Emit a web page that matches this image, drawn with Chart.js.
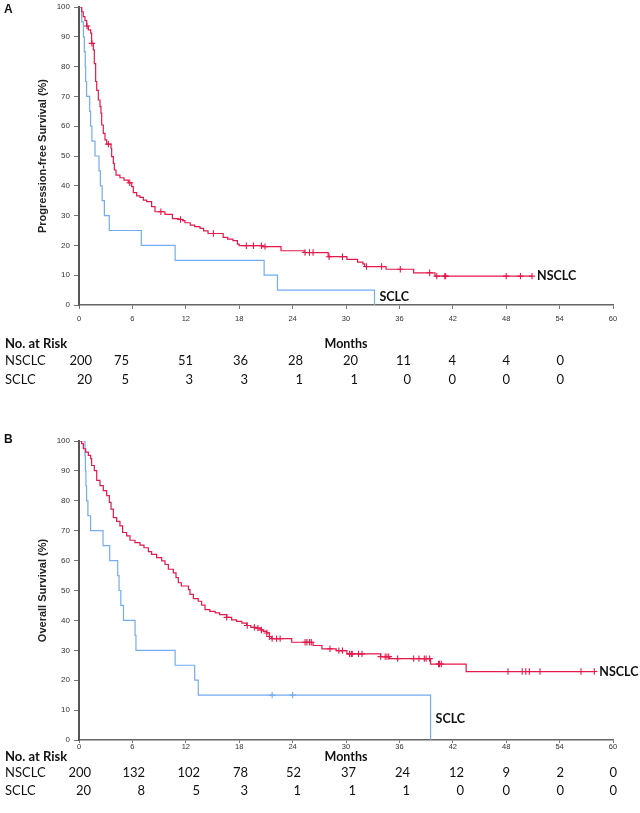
<!DOCTYPE html>
<html><head><meta charset="utf-8">
<script src="https://cdn.jsdelivr.net/npm/chart.js@4"></script>
<style>
html,body{margin:0;padding:0;background:#fff;}
#wrap{position:relative;width:640px;height:813px;overflow:hidden;}
.panel{position:absolute;left:0;width:640px;}
canvas{display:block;}
</style></head><body>
<div id="wrap">
<div class="panel" style="top:0;height:400px"><canvas id="cA" width="640" height="400"></canvas></div>
<div class="panel" style="top:400px;height:413px"><canvas id="cB" width="640" height="413"></canvas></div>
</div>
<script>
// ---------- Data ----------
const groups = ["NSCLC", "SCLC"];

// Panel A: Progression-free survival
const pfsNsclcTime = [0,0.3,0.48,0.67,0.86,1.05,1.31,1.42,1.61,1.72,1.87,1.99,2.17,2.36,2.47,2.55,2.73,2.92,3.11,3.6,3.67,3.86,3.97,4.16,4.6,5.06,5.54,5.92,6.1,6.48,6.85,7.23,7.6,8.16,8.54,9.66,10.5,11.2,11.65,11.9,12.5,13.0,13.6,14.0,14.5,16.2,16.7,17.3,17.8,18.0,20.7,22.7,25.3,28.0,30.1,31.3,31.9,32.1,34.5,37.6,40.0,50.9];
const pfsNsclcSurv = [100,98.4,96.8,95.4,93.6,92.3,91.2,87.8,85.6,81,75,72,68.8,66.6,64.3,60.4,57.6,55.4,54,52.6,49.8,47.5,45.3,43.6,42.7,41.9,41,39.7,37.7,36.6,36.1,35.2,34.7,33,31.3,30.4,29,28.7,28.3,27.6,26.8,26.3,25.7,24.9,24,22.7,22.1,21.6,20.4,19.9,19.6,18.2,17.6,16.2,15.3,14.4,13.8,12.9,12,10.8,9.7,9.7];
const pfsNsclcCensor = [0.9,1.45,3.3,5.7,9.2,11.4,15.1,18.8,19.6,20.5,20.9,25.4,25.9,26.3,28.1,29.6,32.3,34.0,36.1,39.4,40.2,41.1,41.2,48.0,49.6,50.9];
const pfsSclcTime = [0,0.3,0.5,0.6,0.7,0.75,0.85,1.2,1.3,1.45,1.8,2.25,2.4,2.6,2.85,3.4,7.0,10.8,20.8,22.3,33.2];
const pfsSclcSurv = [100,95,90,85,80,75,70,65,60,55,50,45,40,35,30,25,20,15,10,5,0];
const pfsSclcCensor = [];

// Panel B: Overall survival
const osNsclcTime = [0,0.3,0.49,0.75,1.05,1.31,1.42,1.72,1.99,2.36,2.73,3.11,3.41,3.6,3.86,4.23,4.6,4.9,5.35,5.73,6.29,6.85,7.3,7.79,8.16,8.72,9.29,9.66,10.04,10.6,10.9,11.16,11.5,12.3,12.47,12.85,13.4,13.78,14.16,14.7,15.3,15.8,16.6,17.15,17.7,18.3,18.84,19.3,19.8,20.34,20.7,21.1,21.4,21.65,23.9,26.3,27.3,28.9,30.1,33.9,34.9,39.5,43.5,57.9];
const osNsclcSurv = [100,99.1,97.4,96.3,95.2,94.1,91.8,90.1,86.8,85.1,83.4,81.7,79.5,77.2,74.4,73.1,71.6,69.4,68.3,66.8,66,65.2,64.3,63,62.1,61,59.9,58.7,57.1,55.9,54.3,52.6,51.5,50.3,48.7,47.3,46.4,45.1,43.6,43,42.5,41.9,41,40.2,39.7,39.1,38.3,37.7,37.4,36.8,36.3,35.8,34.6,33.9,32.7,31.6,30.5,29.9,28.8,27.9,27.2,25.4,22.9,22.9];
const osNsclcCensor = [16.6,18.9,19.7,20.1,20.5,21.1,21.4,21.7,22.2,22.6,25.4,25.6,25.9,26.1,28.2,29.2,29.6,30.4,30.6,30.7,31.4,31.8,33.9,34.4,34.6,34.8,35.8,37.6,38.2,38.8,39.0,39.4,40.4,40.5,40.7,48.2,49.8,50.2,50.6,51.8,56.4,57.9];
const osSclcTime = [0,0.67,0.72,0.78,0.85,1.0,1.3,2.7,3.45,4.35,4.5,4.7,5.0,6.3,6.4,10.8,13.0,13.4,39.5];
const osSclcSurv = [100,95,90,85,80,75,70,65,60,55,50,45,40,35,30,25,20,15,0];
const osSclcCensor = [21.7,24.0];

// Number at risk
const riskTimesA = [0,6,12,18,24,30,36,42,48,54];
const riskPfsNsclc = [200,75,51,36,28,20,11,4,4,0];
const riskPfsSclc = [20,5,3,3,1,1,0,0,0,0];
const riskTimesB = [0,6,12,18,24,30,36,42,48,54,60];
const riskOsNsclc = [200,132,102,78,52,37,24,12,9,2,0];
const riskOsSclc = [20,8,5,3,1,1,1,0,0,0,0];

// ---------- Styling / layout ----------
const RED = '#e5194b';
const BLUE = '#72acf2';
const LABEL_FONT = 'Lato, "Noto Sans", sans-serif';
const AXIS_FONT = '"Liberation Sans", Arial, sans-serif';

function survAt(T, S, t) {
  let v = S[0];
  for (let i = 0; i < T.length; i++) { if (T[i] <= t) v = S[i]; }
  return v;
}
function pts(T, S) { return T.map((t, i) => ({x: t, y: S[i]})); }

function makePanel(id, p) {
  const datasets = [
    {type:'line', data: pts(p.nT, p.nS), borderColor: RED, borderWidth: 1.2, stepped: true, pointRadius: 0, fill: false},
    {type:'line', data: pts(p.sT, p.sS), borderColor: BLUE, borderWidth: 1.2, stepped: true, pointRadius: 0, fill: false},
    {type:'scatter', data: p.nC.map(t => ({x: t, y: survAt(p.nT, p.nS, t)})), pointStyle: 'cross', pointRadius: 3.2, borderColor: RED, borderWidth: 1.1, backgroundColor: RED},
    {type:'scatter', data: p.sC.map(t => ({x: t, y: survAt(p.sT, p.sS, t)})), pointStyle: 'cross', pointRadius: 3.2, borderColor: BLUE, borderWidth: 1.1, backgroundColor: BLUE}
  ];
  const txt = {
    id: 'txt' + id,
    afterDraw(chart) {
      const c = chart.ctx, xs = chart.scales.x, ys = chart.scales.y, a = chart.chartArea;
      c.save();
      c.fillStyle = '#111';
      c.textBaseline = 'middle';
      c.font = 'bold 12px ' + AXIS_FONT;
      c.textAlign = 'left';
      c.fillText(p.letter, 4, p.letterY);
      c.save();
      c.translate(43, (a.top + a.bottom) / 2);
      c.rotate(-Math.PI / 2);
      c.textAlign = 'center';
      c.font = 'bold 11px ' + AXIS_FONT;
      c.fillStyle = '#222';
      c.fillText(p.yTitle, 0, 0);
      c.restore();
      c.font = 'bold 12.5px ' + LABEL_FONT;
      c.textAlign = 'center';
      c.fillText('Months', (a.left + a.right) / 2, p.headY);
      c.textAlign = 'left';
      c.font = 'bold 13px ' + LABEL_FONT;
      c.fillText('No. at Risk', 5, p.headY);
      c.font = '13px ' + LABEL_FONT;
      c.fillText(groups[0], 5, p.row1Y);
      c.fillText(groups[1], 5, p.row2Y);
      c.textAlign = 'right';
      p.riskN.forEach((v, i) => c.fillText(String(v), p.colRight[i], p.row1Y));
      p.riskS.forEach((v, i) => c.fillText(String(v), p.colRight[i], p.row2Y));
      c.textAlign = 'left';
      c.font = 'bold 12.5px ' + LABEL_FONT;
      const nt = p.nT[p.nT.length - 1], nsv = p.nS[p.nS.length - 1];
      c.fillText(groups[0], xs.getPixelForValue(nt) + 5, ys.getPixelForValue(nsv));
      const st = p.sT[p.sT.length - 1];
      c.fillText(groups[1], xs.getPixelForValue(st) + 5, ys.getPixelForValue(0) + p.sclcDy);
      c.restore();
    }
  };
  return new Chart(document.getElementById(id), {
    data: {datasets},
    options: {
      responsive: false, animation: false, devicePixelRatio: 1,
      layout: {padding: {left: 0, right: 27, top: p.top, bottom: 0}},
      plugins: {legend: {display: false}, tooltip: {enabled: false}},
      scales: {
        x: {type: 'linear', min: 0, max: 60,
          ticks: {stepSize: 6, autoSkip: false, maxRotation: 0, color: '#333', padding: p.xPad, font: {size: 7.5, family: AXIS_FONT}},
          grid: {display: true, drawOnChartArea: false, drawTicks: true, tickLength: p.xTick, color: '#777'},
          border: {color: '#666', width: 1.5},
          afterFit(s) { s.height = p.xH; s.paddingLeft = 0; s.paddingRight = 0; }
        },
        y: {type: 'linear', min: 0, max: 100,
          ticks: {stepSize: 10, color: '#333', padding: 4, font: {size: 8, family: AXIS_FONT}},
          grid: {display: true, drawOnChartArea: false, drawTicks: true, tickLength: 5, color: '#777'},
          border: {color: '#555', width: 2},
          afterFit(s) { s.width = 79; s.paddingTop = 0; s.paddingBottom = 0; }
        }
      }
    },
    plugins: [txt]
  });
}

makePanel('cA', {
  letter: 'A', letterY: 10, yTitle: 'Progression-free Survival (%)',
  nT: pfsNsclcTime, nS: pfsNsclcSurv, nC: pfsNsclcCensor,
  sT: pfsSclcTime, sS: pfsSclcSurv, sC: pfsSclcCensor,
  riskN: riskPfsNsclc, riskS: riskPfsSclc, times: riskTimesA,
  colRight: [92,129,193,248,303,358,411,456,510,564],
  top: 7, xH: 95, xPad: 5, xTick: 4, headY: 344, row1Y: 361, row2Y: 380, sclcDy: -8
});
makePanel('cB', {
  letter: 'B', letterY: 40, yTitle: 'Overall Survival (%)',
  nT: osNsclcTime, nS: osNsclcSurv, nC: osNsclcCensor,
  sT: osSclcTime, sS: osSclcSurv, sC: osSclcCensor,
  riskN: riskOsNsclc, riskS: riskOsSclc, times: riskTimesB,
  colRight: [91,145,200,248,301,356,410,464,510,564,617],
  top: 41, xH: 73, xPad: -1, xTick: 3, headY: 357, row1Y: 373, row2Y: 391, sclcDy: -21
});
</script>
</body></html>
